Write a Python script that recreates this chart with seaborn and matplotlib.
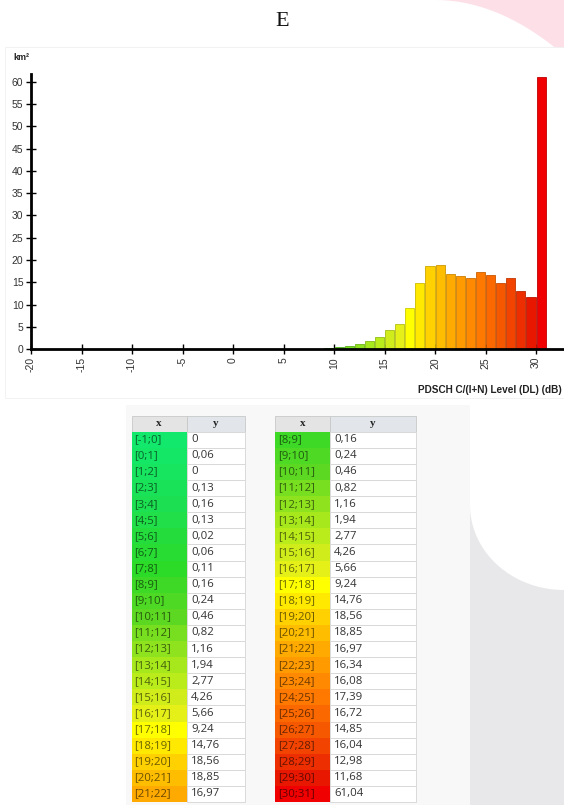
import matplotlib
matplotlib.use("Agg")
import matplotlib.pyplot as plt
import matplotlib.colors as mcolors
from matplotlib.patches import Rectangle, Polygon
import numpy as np
import pandas as pd
import seaborn as sns

sns.set_style("ticks")
plt.rcParams['font.family'] = ['Liberation Sans', 'DejaVu Sans']
plt.rcParams['axes.unicode_minus'] = False

# 数据：每个 1 dB 区间的面积 (km²)
bin_lo = list(range(-1, 31))
area = [0, 0.06, 0, 0.13, 0.16, 0.13, 0.02, 0.06, 0.11, 0.16, 0.24, 0.46,
        0.82, 1.16, 1.94, 2.77, 4.26, 5.66, 9.24, 14.76, 18.56, 18.85, 16.97,
        16.34, 16.08, 17.39, 16.72, 14.85, 16.04, 12.98, 11.68, 61.04]
x_ticks = list(range(-20, 31, 5))
y_ticks = list(range(0, 61, 5))
left_rows = list(range(0, 23))    # [-1;0] .. [21;22]
right_rows = list(range(9, 32))   # [8;9] .. [30;31]

df = pd.DataFrame({'mid': [lo + 0.5 for lo in bin_lo], 'area': area})
bin_edges = bin_lo + [bin_lo[-1] + 1]

# 绿 -> 黄 -> 红 渐变
stops = [(-1, '#12e86c'), (3, '#1ce052'), (7, '#2cda28'), (10, '#5ed822'),
         (13, '#a6e81c'), (16, '#e4f01a'), (17, '#ffff00'), (19, '#ffd200'),
         (21, '#ffaa00'), (24, '#ff7a00'), (27, '#f24600'), (29, '#e81800'),
         (30, '#f00000')]
cmap = mcolors.LinearSegmentedColormap.from_list(
    'cin', [((v + 1) / 31, c) for v, c in stops])
colors = [cmap((lo + 1) / 31) for lo in bin_lo]


def darker(c, f):
    r, g, b = mcolors.to_rgb(c)
    return (r * f, g * f, b * f)


fig = plt.figure(figsize=(5.64, 8.05), dpi=100)

# 背景层（像素坐标）
bg = fig.add_axes([0, 0, 1, 1], zorder=0)
bg.set_xlim(0, 564)
bg.set_ylim(805, 0)
bg.axis('off')

t = np.linspace(0, 1, 40)
px = 435 + 129 * t
py = 55 * t ** 2.0
bg.add_patch(Polygon(list(zip(px, py)) + [(564, 0)], closed=True,
                     facecolor='#fde0e7', edgecolor='none'))
bg.add_patch(Rectangle((5, 47), 560, 351, facecolor='white', edgecolor='#f0f0f0', lw=0.6))
bg.add_patch(Rectangle((126, 405), 344, 400, facecolor='#f8f8f8', edgecolor='none'))
gx = 470 + 94 * (1 - np.cos(t * np.pi / 2))
gy = 505 + 85 * np.sin(t * np.pi / 2)
bg.add_patch(Polygon(list(zip(gx, gy)) + [(564, 805), (470, 805)], closed=True,
                     facecolor='#e8e8ea', edgecolor='none'))

bg.text(282, 21, 'E', ha='center', va='center', fontsize=16,
        family='Liberation Serif', color='#111111')
bg.text(13, 57, 'km²', ha='left', va='center', fontsize=6.5,
        weight='bold', color='#222222')
bg.text(562, 390, 'PDSCH C/(I+N) Level (DL) (dB)', ha='right', va='center',
        fontsize=7.2, weight='bold', color='#222222')

# 直方图
ax = fig.add_axes([31 / 564, (805 - 349.3) / 805, 533 / 564, 275.3 / 805], zorder=2)
ax.patch.set_alpha(0)
sns.histplot(data=df, x='mid', weights='area',
             bins=bin_edges, shrink=0.9, ax=ax, alpha=1)
for patch, c in zip(ax.patches, colors):
    patch.set_facecolor(c)
    patch.set_edgecolor(darker(c, 0.8))
    patch.set_linewidth(0.6)

ax.set_xlim(-20, 32.77)
ax.set_ylim(0, 61.7)
ax.set_xticks(x_ticks)
ax.set_xticklabels([str(v) for v in x_ticks], rotation=90)
ax.set_yticks(y_ticks)
ax.set_xlabel('')
ax.set_ylabel('')
sns.despine(ax=ax)
for side in ['left', 'bottom']:
    ax.spines[side].set_linewidth(2)
    ax.spines[side].set_color('black')
ax.tick_params(direction='inout', length=7, width=1, color='black',
               labelsize=7.5, labelcolor='#333333', pad=2)

# 表格
tables = [(131.5, 187, 245, left_rows), (275, 330, 415.5, right_rows)]
top, head_h, row_h = 416, 15.7, 16.1
for xa, xb, xc, rows in tables:
    bg.add_patch(Rectangle((xa, top), xb - xa, head_h, facecolor='#e4e4e4',
                           edgecolor='#c8c8c8', lw=0.6))
    bg.add_patch(Rectangle((xb, top), xc - xb, head_h, facecolor='#e2e5ea',
                           edgecolor='#c8c8c8', lw=0.6))
    bg.text((xa + xb) / 2, top + head_h / 2, 'x', ha='center', va='center',
            fontsize=8, weight='bold', family='Liberation Serif', color='#222222')
    bg.text((xb + xc) / 2, top + head_h / 2, 'y', ha='center', va='center',
            fontsize=8, weight='bold', family='Liberation Serif', color='#222222')
    for i, k in enumerate(rows):
        y0 = top + head_h + i * row_h
        c = colors[k]
        bg.add_patch(Rectangle((xa, y0), xb - xa, row_h, facecolor=c, edgecolor='none'))
        bg.add_patch(Rectangle((xb, y0), xc - xb, row_h, facecolor='white',
                               edgecolor='#d9d9d9', lw=0.7))
        lo = bin_lo[k]
        bg.text(xa + 3, y0 + row_h / 2, f'[{lo};{lo + 1}]', ha='left', va='center',
                fontsize=8.2, family='Open Sans', color=darker(c, 0.42))
        v = area[k]
        txt = '0' if v == 0 else f'{v:.2f}'.replace('.', ',')
        bg.text(xb + 4, y0 + row_h / 2, txt, ha='left', va='center',
                fontsize=8.2, family='Open Sans', color='#333333')

fig.savefig('out.png', dpi=100)
